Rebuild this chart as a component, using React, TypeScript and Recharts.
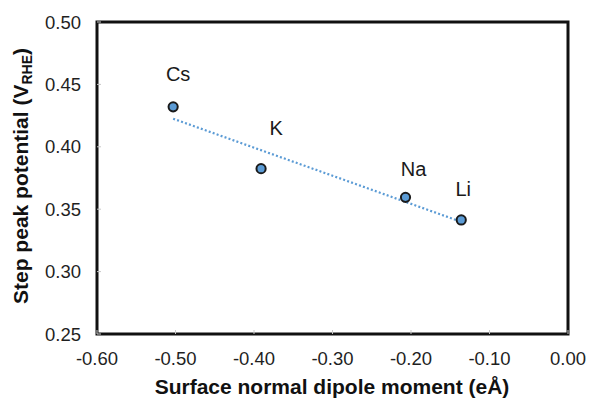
import React from "react";
import {
  ScatterChart,
  Scatter,
  XAxis,
  YAxis,
  Customized,
} from "recharts";

// Alkali cations: surface normal dipole vs step peak potential
const cations = ["Cs", "K", "Na", "Li"];
const dipoleMoment = [-0.503, -0.391, -0.207, -0.136];
const peakPotential = [0.432, 0.3825, 0.3595, 0.3414];

// Linear trendline end points
const trendDipole = [-0.503, -0.136];
const trendPotential = [0.4225, 0.3399];

const xTicks = [-0.6, -0.5, -0.4, -0.3, -0.2, -0.1, 0];
const yTicks = [0.25, 0.3, 0.35, 0.4, 0.45, 0.5];

const points = cations.map((name, i) => ({
  name,
  x: dipoleMoment[i],
  y: peakPotential[i],
}));
const trend = trendDipole.map((x, i) => ({ x, y: trendPotential[i] }));

const FONT = "'Liberation Sans', Arial, sans-serif";
const BLUE = "#5B9BD5";

const MARGIN = { top: 22, right: 22, bottom: 0, left: 0 };
const W = 590;
const H = 399;
const Y_AXIS_W = 97;
const X_AXIS_H = 65;

// label offsets (dx, baseline dy) from each marker
const labelOffset: Record<string, [number, number]> = {
  Cs: [5, -26],
  K: [15, -34],
  Na: [8, -21],
  Li: [2, -24],
};

const CationDot = (props: any) => {
  const { cx, cy, payload } = props;
  const [dx, dy] = labelOffset[payload.name] || [0, -24];
  return (
    <g>
      <circle cx={cx} cy={cy} r={4.6} fill={BLUE} stroke="#1a1a1a" strokeWidth={2} />
      <text
        x={cx + dx}
        y={cy + dy}
        textAnchor="middle"
        fontFamily={FONT}
        fontSize={20}
        fill="#1a1a1a"
      >
        {payload.name}
      </text>
    </g>
  );
};

// plot frame + axis titles
const Decorations = () => {
  const left = MARGIN.left + Y_AXIS_W;
  const top = MARGIN.top;
  const width = W - MARGIN.right - left;
  const height = H - MARGIN.bottom - X_AXIS_H - top;
  return (
    <g>
      <rect x={left} y={top} width={width} height={height} fill="none" stroke="#111" strokeWidth={3} />
      <g fontFamily={FONT} fontWeight="bold" fill="#111">
        <text x={332} y={394} textAnchor="middle" fontSize={21}>
          Surface normal dipole moment (eÅ)
        </text>
        <text x={28} y={176} textAnchor="middle" fontSize={21} transform="rotate(-90, 28, 176)">
          Step peak potential (V
          <tspan fontSize={14} dy={4}>
            RHE
          </tspan>
          <tspan dy={-4}>)</tspan>
        </text>
      </g>
    </g>
  );
};

export default function App() {
  const tickStyle = { fontFamily: FONT, fontSize: 18.5, fill: "#1f1f1f" };
  return (
    <div style={{ position: "absolute", left: 0, top: 0, background: "#fff" }}>
      <ScatterChart width={W} height={H} margin={MARGIN}>
        <XAxis
          type="number"
          dataKey="x"
          domain={[-0.6, 0]}
          ticks={xTicks}
          allowDataOverflow
          height={X_AXIS_H}
          axisLine={false}
          tickLine={{ stroke: "#c8c8c8" }}
          tickSize={-4}
          tickMargin={22}
          tick={tickStyle}
          tickFormatter={(v: number) => v.toFixed(2)}
        />
        <YAxis
          type="number"
          dataKey="y"
          domain={[0.25, 0.5]}
          ticks={yTicks}
          allowDataOverflow
          width={Y_AXIS_W}
          axisLine={false}
          tickLine={{ stroke: "#c8c8c8" }}
          tickSize={-4}
          tickMargin={20}
          tick={tickStyle}
          tickFormatter={(v: number) => v.toFixed(2)}
        />
        <Scatter
          data={trend}
          line={{ stroke: BLUE, strokeWidth: 2.2, strokeDasharray: "2 2.2" }}
          shape={() => <g />}
          isAnimationActive={false}
        />
        <Scatter data={points} shape={CationDot} isAnimationActive={false} />
        <Customized component={Decorations} />
      </ScatterChart>
    </div>
  );
}
